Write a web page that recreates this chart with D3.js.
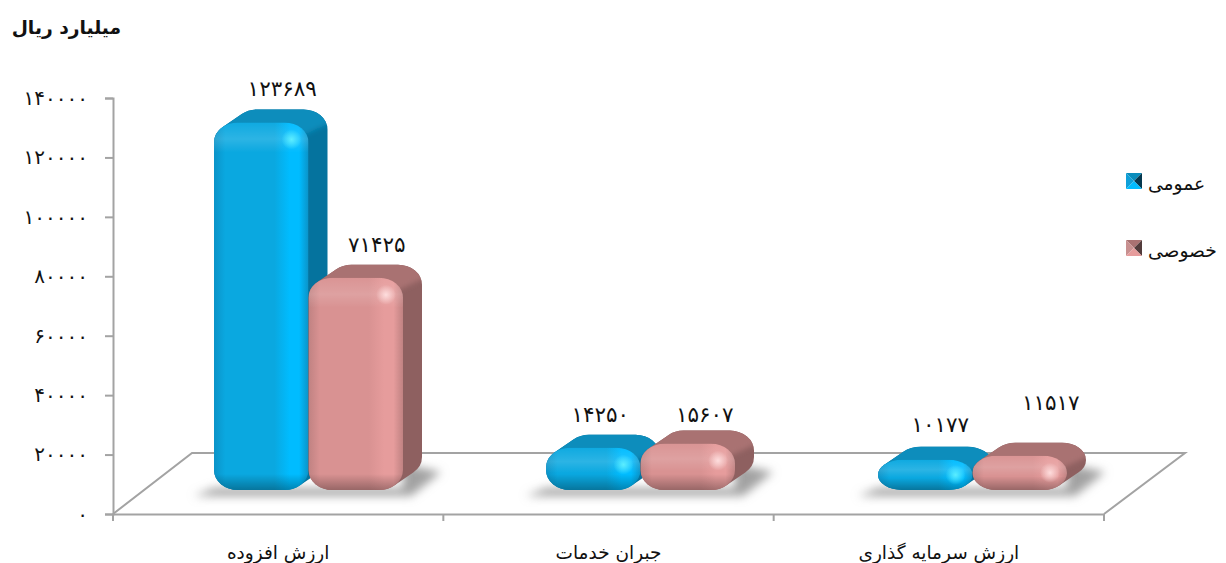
<!DOCTYPE html>
<html>
<head>
<meta charset="utf-8">
<script src="https://cdn.jsdelivr.net/npm/d3@7"></script>
<style>
  html, body { margin: 0; padding: 0; background: #fff; overflow: hidden; }
  text { font-family: "DejaVu Sans", "Noto Sans", sans-serif; fill: #111; }
</style>
</head>
<body>
<div id="chart"></div>
<script>
// 1: DATA
const categories = ["ارزش افزوده", "جبران خدمات", "ارزش سرمایه گذاری"];
const seriesNames = ["عمومی", "خصوصی"];
const publicValues = [123689, 14250, 10177];
const privateValues = [71425, 15607, 11517];
const yTicks = [0, 20000, 40000, 60000, 80000, 100000, 120000, 140000];
const unitTitle = "میلیارد ریال";

// 2: GLOBAL VARIABLES
const W = 1226, H = 563;
const plot = { left: 113, right: 1104, top: 98, bottom: 514 };
const depth = { x: 79, y: 61 };       // floor depth
const barDepth = { x: 19, y: 13 };    // depth of each bar
const floorFront = 490;               // where bar fronts stand
const barW = 94.5;
const skin = [
  { main: "#0aa8e0", stripe: "#00bcff", edge: "#0b93c8", top: "#0a8dbc", side: "#05739e", dark: "#04384f", left: "#0f9fd8", hi: "#5ff0ff" },
  { main: "#d99292", stripe: "#e69c9c", edge: "#c08282", top: "#a97272", side: "#8e6060", dark: "#523c3c", left: "#c89090", hi: "#ffe0e0" }
];
// the value labels do not sit evenly above their bars: [dx, baseline above the bar top]
const labelNudge = [[0, 26], [0, 26], [-14, 26], [-4, 22], [-6, 28], [10, 46]];

const toPersian = n => String(n).replace(/\d/g, d => "۰۱۲۳۴۵۶۷۸۹"[+d]);

const svg = d3.select("#chart").append("svg")
  .attr("width", W).attr("height", H).style("display", "block");
const defs = svg.append("defs");

defs.append("filter").attr("id", "blur4").attr("x", "-20%").attr("y", "-50%")
  .attr("width", "140%").attr("height", "200%")
  .append("feGaussianBlur").attr("stdDeviation", 5);
defs.append("filter").attr("id", "blur2").attr("x", "-30%").attr("y", "-30%")
  .attr("width", "160%").attr("height", "160%")
  .append("feGaussianBlur").attr("stdDeviation", 2.5);

skin.forEach((s, i) => {
  const h = defs.append("linearGradient").attr("id", `front${i}`);
  [[0, s.edge], [0.12, s.main], [0.64, s.main], [0.8, s.stripe], [0.9, s.stripe], [1, s.edge]].forEach(([o, c]) =>
    h.append("stop").attr("offset", o).attr("stop-color", c));
  const r = defs.append("radialGradient").attr("id", `spec${i}`);
  r.append("stop").attr("offset", 0).attr("stop-color", s.hi).attr("stop-opacity", 0.95);
  r.append("stop").attr("offset", 1).attr("stop-color", s.hi).attr("stop-opacity", 0);
});
// bevel shade at the bottom of a bar
const shade = defs.append("linearGradient").attr("id", "shade").attr("x1", 0).attr("x2", 0).attr("y1", 0).attr("y2", 1);
shade.append("stop").attr("offset", 0).attr("stop-color", "#000").attr("stop-opacity", 0);
shade.append("stop").attr("offset", 1).attr("stop-color", "#000").attr("stop-opacity", 0.3);
const glow = defs.append("linearGradient").attr("id", "glow").attr("x1", 0).attr("x2", 0).attr("y1", 0).attr("y2", 1);
glow.append("stop").attr("offset", 0).attr("stop-color", "#fff").attr("stop-opacity", 0.02);
glow.append("stop").attr("offset", 0.55).attr("stop-color", "#fff").attr("stop-opacity", 0.14);
glow.append("stop").attr("offset", 1).attr("stop-color", "#fff").attr("stop-opacity", 0);

// 3: SCALES
const y = d3.scaleLinear().domain([0, 140000]).range([plot.bottom, plot.top]);
const xBand = d3.scaleBand().domain(categories).range([plot.left, plot.right]);
// bars sit on the sloped floor, a little wider apart than the axis bands
const barBand = d3.scaleBand().domain(categories).range([214, 214 + 3 * 332]);
const xPos = (cat, s) => barBand(cat) + s * barW;

// 4: FLOOR AND AXES
const line = "#a3a3a3";
svg.append("path")
  .attr("d", `M${plot.left},${plot.bottom}L${plot.left + depth.x},${plot.bottom - depth.y}H${plot.right + depth.x + 2}L${plot.right},${plot.bottom}`)
  .attr("fill", "none").attr("stroke", line).attr("stroke-width", 2);

const yAxis = svg.append("g")
  .attr("transform", `translate(${plot.left},0)`)
  .call(d3.axisLeft(y).tickValues(yTicks).tickFormat(toPersian).tickSize(8).tickPadding(17));
const xAxis = svg.append("g")
  .attr("transform", `translate(0,${plot.bottom})`)
  .call(d3.axisBottom(xBand).tickSize(0).tickPadding(32));
[yAxis, xAxis].forEach(a => {
  a.select(".domain").attr("stroke", line).attr("stroke-width", 2);
  a.selectAll(".tick line").attr("stroke", line).attr("stroke-width", 2);
});
yAxis.selectAll("text").style("font-size", "20px").style("letter-spacing", "4.2px").attr("fill", "#111");
xAxis.selectAll("text").style("font-size", "18.5px").attr("fill", "#111");
// x ticks sit at the band edges, not the centres
xAxis.selectAll(".edge").data(d3.range(categories.length + 1)).enter().append("line")
  .attr("x1", i => plot.left + i * xBand.step()).attr("x2", i => plot.left + i * xBand.step())
  .attr("y1", 0).attr("y2", 7).attr("stroke", line).attr("stroke-width", 2);

// 5: BARS
// outline of the rounded front face pushed back along the depth direction
function silhouette(x0, x1, top, bot, rx, ry) {
  const dx = barDepth.x, dy = barDepth.y;
  const t = Math.atan2(dx * ry, dy * rx), c = Math.cos(t), s = Math.sin(t);
  const arc = (px, py) => `A${rx},${ry} 0 0 1 ${px},${py}`;
  const tlx = x0 + rx - rx * c, tly = top + ry - ry * s;
  const brx = x1 - rx + rx * c, bry = bot - ry + ry * s;
  return `M${x0 + rx},${bot}` + arc(x0, bot - ry) + `V${top + ry}` + arc(tlx, tly) +
    `L${tlx + dx},${tly - dy}` + arc(x0 + rx + dx, top - dy) + `H${x1 - rx + dx}` +
    arc(x1 + dx, top - dy + ry) + `V${bot - dy - ry}` + arc(brx + dx, bry - dy) +
    `L${brx},${bry}` + arc(x1 - rx, bot) + "Z";
}

const bars = categories.flatMap((c, i) => [
  { cat: c, s: 0, v: publicValues[i] },
  { cat: c, s: 1, v: privateValues[i] }
]);

// floor shadows, one for each category
const shadows = svg.append("g").attr("filter", "url(#blur4)");
categories.forEach(c => {
  const x0 = xPos(c, 0), x1 = xPos(c, 2);
  shadows.append("path")
    .attr("d", `M${x0 - 20},496H${x1 + 8}L${x1 + 38},472L${x1},464V488H${x0}Z`)
    .attr("fill", "#a2a2a2");
});

const barG = svg.append("g").selectAll("g").data(bars).enter().append("g");
barG.each(function (d, i) {
  const g = d3.select(this), s = skin[d.s];
  const x0 = xPos(d.cat, d.s), x1 = x0 + barW;
  const top = floorFront - (y(0) - y(d.v)), bot = floorFront;
  const h = bot - top;
  const rx = 24, ry = Math.min(20, h / 2);

  // depth of the bar: side colour, then the top face over it
  const outline = silhouette(x0, x1, top, bot, rx, ry);
  defs.append("clipPath").attr("id", `clip${i}`).append("path").attr("d", outline);
  g.append("path").attr("d", outline).attr("fill", s.side);
  g.append("g").attr("clip-path", `url(#clip${i})`).append("path")
    .attr("d", `M${x0 - 10},${top + 14}L${x0 + barDepth.x - 10},${top - barDepth.y - 8}H${x1 + barDepth.x + 8}V${top - barDepth.y + 11}L${x1 - 6},${top + 13}Z`)
    .attr("fill", s.top).attr("filter", "url(#blur2)");

  // front face, shaded inside its own clip
  defs.append("clipPath").attr("id", `face${i}`).append("rect")
    .attr("x", x0).attr("y", top).attr("width", barW).attr("height", h).attr("rx", rx).attr("ry", ry);
  const face = g.append("g").attr("clip-path", `url(#face${i})`);
  face.append("rect").attr("x", x0).attr("y", top).attr("width", barW).attr("height", h)
    .attr("fill", `url(#front${d.s})`);
  const bev = Math.min(30, h * 0.6), low = Math.min(16, h * 0.4);
  face.append("rect").attr("x", x0).attr("y", top).attr("width", barW).attr("height", bev).attr("fill", "url(#glow)");
  face.append("rect").attr("x", x0).attr("y", bot - low).attr("width", barW).attr("height", low).attr("fill", "url(#shade)");
  face.append("ellipse").attr("cx", x1 - 17).attr("cy", top + Math.min(17, h / 2)).attr("rx", 10).attr("ry", Math.min(10, h / 3))
    .attr("fill", `url(#spec${d.s})`);
});

// 6: VALUE LABELS
svg.append("g").selectAll("text").data(bars).enter().append("text")
  .attr("x", (d, i) => xPos(d.cat, d.s) + barW / 2 + 21 + labelNudge[i][0])
  .attr("y", (d, i) => floorFront - (y(0) - y(d.v)) - labelNudge[i][1])
  .attr("text-anchor", "middle")
  .style("font-size", "21.5px")
  .text(d => toPersian(d.v));

// 7: TITLE AND LEGEND
svg.append("text").attr("x", 121).attr("y", 34).attr("text-anchor", "end")
  .style("font-size", "18.7px").style("font-weight", "bold").text(unitTitle);

const legend = svg.append("g").selectAll("g").data(seriesNames).enter().append("g")
  .attr("transform", (d, i) => `translate(1126,${173 + i * 67})`);
legend.each(function (d, i) {
  const g = d3.select(this), s = skin[i], q = 16;
  const tri = (pts, c) => g.append("path").attr("d", d3.line()(pts) + "Z").attr("fill", c);
  tri([[0, 0], [q, 0], [q / 2, q / 2]], s.top);
  tri([[q, 0], [q, q], [q / 2, q / 2]], s.dark);
  tri([[0, 0], [0, q], [q / 2, q / 2]], s.left);
  tri([[0, q], [q, q], [q / 2, q / 2]], s.stripe);
});
legend.append("text").attr("x", 22).attr("y", 17).attr("text-anchor", "start")
  .style("font-size", "18.7px").text(d => d);
</script>
</body>
</html>
